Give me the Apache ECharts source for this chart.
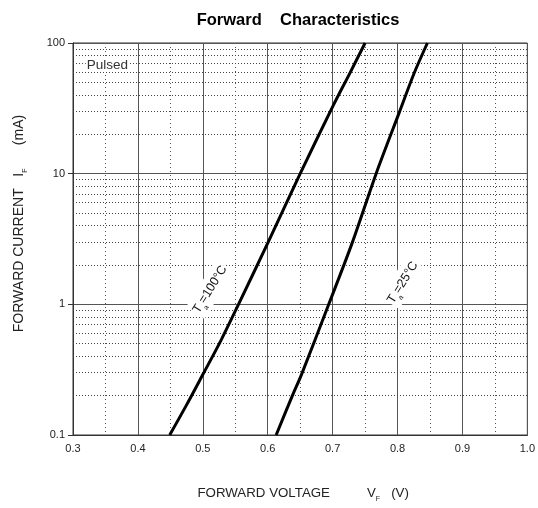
<!DOCTYPE html>
<html><head><meta charset="utf-8">
<script src="https://cdn.jsdelivr.net/npm/echarts@6/dist/echarts.min.js"></script>
<style>html,body{margin:0;background:#fff}#c{width:538px;height:508px}</style>
</head><body><div id="c"></div>
<script>
// ---- data ----
const voltageTicks = [0.3, 0.4, 0.5, 0.6, 0.7, 0.8, 0.9, 1.0];
const currentTicks = [0.1, 1, 10, 100];
const minorCurrents = [0.2,0.3,0.4,0.5,0.6,0.7,0.8,0.9, 2,3,4,5,6,7,8,9, 20,30,40,50,60,70,80,90];
const t100V = [0.449, 0.475, 0.500, 0.528, 0.555, 0.600, 0.650, 0.701, 0.727, 0.750];
const t100I = [0.1, 0.17, 0.29, 0.53, 1.0, 2.94, 10, 33.3, 59.4, 100];
const t25V  = [0.613, 0.638, 0.652, 0.694, 0.730, 0.767, 0.803, 0.826, 0.846];
const t25I  = [0.1, 0.2, 0.29, 1.0, 2.94, 10, 29.7, 59.4, 100];
const labelT100 = [0.511, 1.3];
const labelT25 = [0.808, 1.47];
const labelPulsed = [0.353, 68];

const FONT = '"Liberation Sans", Arial, sans-serif';
const zip = (a, b) => a.map((v, i) => [v, b[i]]);

const chart = echarts.init(document.getElementById('c'), null, {renderer: 'canvas'});
const curveStyle = {color: '#000', width: 3};
const tempLabel = (txt) => ({
  show: true, position: 'inside', rotate: 58,
  formatter: '{t|T}{s|a}{t|' + txt + '}',
  backgroundColor: '#fff', padding: [1, 1],
  rich: {
    t: {fontFamily: FONT, fontSize: 12.5, color: '#111'},
    s: {fontFamily: FONT, fontSize: 7, color: '#111', verticalAlign: 'bottom', lineHeight: 20}
  }
});
const sp = n => ' '.repeat(n);

chart.setOption({
  animation: false,
  backgroundColor: '#fff',
  title: {
    text: 'Forward' + sp(4) + 'Characteristics',
    left: 293, top: 7, textAlign: 'center',
    textStyle: {fontFamily: FONT, fontSize: 16.5, fontWeight: 'bold', color: '#000'}
  },
  grid: {left: 73, right: 10, top: 43, bottom: 70, containLabel: false,
         show: true, borderColor: '#333', borderWidth: 1},
  xAxis: {
    type: 'value', min: voltageTicks[0], max: voltageTicks[voltageTicks.length - 1], interval: 0.1,
    name: '{n|FORWARD VOLTAGE' + sp(10) + 'V}{s|F}{n|' + sp(3) + '(V)}',
    nameLocation: 'middle', nameGap: 49,
    nameTextStyle: {padding: [0, 0, 0, 6], rich: {
      n: {fontFamily: FONT, fontSize: 13.3, color: '#222'},
      s: {fontFamily: FONT, fontSize: 7, color: '#222', verticalAlign: 'bottom', lineHeight: 19}
    }},
    axisLine: {show: true, lineStyle: {color: '#333'}},
    axisTick: {show: false},
    axisLabel: {fontFamily: FONT, fontSize: 11, color: '#222', margin: 8,
                formatter: v => v.toFixed(1)},
    splitLine: {show: true, lineStyle: {color: '#555', width: 1}},
    minorTick: {show: false, splitNumber: 2},
    minorSplitLine: {show: true, lineStyle: {color: '#555', width: 1, type: [1, 3]}}
  },
  yAxis: {
    type: 'log', logBase: 10, min: currentTicks[0], max: currentTicks[currentTicks.length - 1],
    name: '{n|FORWARD CURRENT' + sp(3) + 'I}{s|F}{n|' + sp(6) + '(mA)}',
    nameLocation: 'middle', nameGap: 44,
    nameTextStyle: {padding: [0, 0, 0, 31], rich: {
      n: {fontFamily: FONT, fontSize: 14, color: '#222'},
      s: {fontFamily: FONT, fontSize: 7, color: '#222', verticalAlign: 'bottom', lineHeight: 20}
    }},
    axisLine: {show: true, lineStyle: {color: '#333'}},
    axisTick: {show: true, length: 5, lineStyle: {color: '#333'}},
    axisLabel: {fontFamily: FONT, fontSize: 11, color: '#222', margin: 8,
                formatter: v => String(+v.toPrecision(3))},
    splitLine: {show: true, lineStyle: {color: '#555', width: 1}}
  },
  series: [
    {
      type: 'line', data: [], silent: true,
      markLine: {
        silent: true, symbol: 'none', label: {show: false},
        lineStyle: {color: '#444', width: 1, type: [1, 2]},
        data: minorCurrents.map(v => ({yAxis: v}))
      },
      markPoint: {
        symbol: 'rect', symbolSize: 0,
        data: [{coord: labelPulsed}],
        label: {show: true, position: 'inside', formatter: 'Pulsed',
                fontFamily: FONT, fontSize: 13.5, color: '#333',
                backgroundColor: '#fff', padding: [0, 1]}
      }
    },
    {
      type: 'line', data: zip(t100V, t100I), showSymbol: false, smooth: 0.3,
      lineStyle: curveStyle, z: 5,
      markPoint: {symbol: 'rect', symbolSize: 0, data: [{coord: labelT100}], label: tempLabel('=100°C')}
    },
    {
      type: 'line', data: zip(t25V, t25I), showSymbol: false, smooth: 0.3,
      lineStyle: curveStyle, z: 5,
      markPoint: {symbol: 'rect', symbolSize: 0, data: [{coord: labelT25}], label: tempLabel('=25°C')}
    }
  ]
});
</script>
</body></html>
